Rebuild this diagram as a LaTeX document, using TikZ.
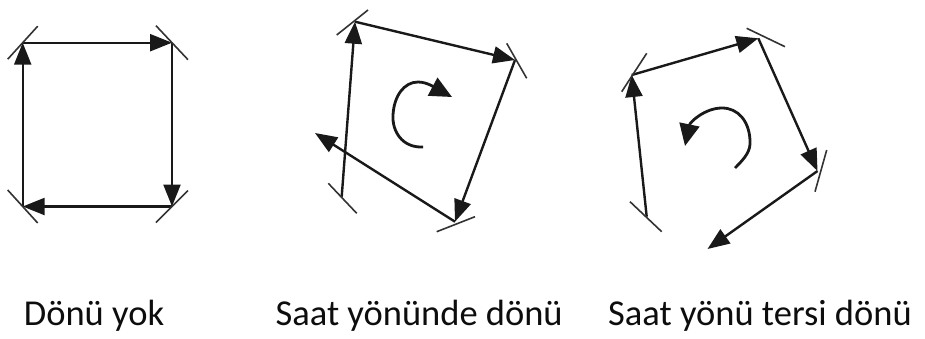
\documentclass[tikz,border=0pt]{standalone}
\usepackage{fontspec}
\setmainfont{Carlito}
\usetikzlibrary{arrows.meta,calc}
\begin{document}
\begin{tikzpicture}[x=1pt,y=-1pt,
  edge/.style={line width=2.4pt, color=black!90, -{Triangle[length=22pt,width=17pt]}},
  vtick/.style={line width=1.6pt, color=black!80},
  curl/.style={line width=2.8pt, color=black!90, -{Triangle[length=22pt,width=20pt]}},
  lbl/.style={anchor=base, inner sep=0pt, text=black!95, font=\fontsize{36.5pt}{40pt}\selectfont}]
\useasboundingbox (0,0) rectangle (925,338);
% ---------- panel 1 : no rotation
\coordinate (TL) at (22.7,42.7);
\coordinate (TR) at (172,42.7);
\coordinate (BR) at (172,206.5);
\coordinate (BL) at (22.7,206.5);
\draw[edge] (TL) -- (TR);
\draw[edge] (TR) -- (BR);
\draw[edge] (BR) -- (BL);
\draw[edge] (BL) -- (TL);
\draw[vtick] ($(TL)+(-15,16.5)$) -- ($(TL)+(15,-16.5)$);
\draw[vtick] ($(TR)+(-16,-17)$) -- ($(TR)+(16,17)$);
\draw[vtick] ($(BR)+(-16,16)$) -- ($(BR)+(16,-16)$);
\draw[vtick] ($(BL)+(-15,-16.5)$) -- ($(BL)+(15,16.5)$);
% ---------- panel 2 : clockwise
\coordinate (A) at (355,21.7);
\coordinate (B) at (515,60);
\coordinate (C) at (455,221.7);
\coordinate (D) at (341.7,196.7);
\coordinate (E) at (315,133);
\draw[edge] (A) -- (B);
\draw[edge] (B) -- (C);
\draw[edge] (C) -- (E);
\draw[edge] (D) -- (A);
\draw[vtick] ($(A)+(-18.3,13.3)$) -- ($(A)+(13,-11.7)$);
\draw[vtick] ($(B)+(-8.3,-16.7)$) -- ($(B)+(11.7,18.3)$);
\draw[vtick] ($(C)+(-18.3,10)$) -- ($(C)+(20,-5)$);
\draw[vtick] ($(D)+(-13.4,-13.4)$) -- ($(D)+(15,16.6)$);
\coordinate (cw0) at (423,147);
\coordinate (cw1) at (452,97);
\draw[curl] (cw0) .. controls (402,148) and (392,131) .. (393,115)
  .. controls (394,96) and (404,82) .. (418,82)
  .. controls (428,82) and (437,89) .. (cw1);
% ---------- panel 3 : counter-clockwise
\coordinate (P) at (631.7,75);
\coordinate (Q) at (758.3,38.3);
\coordinate (R) at (817.5,171);
\coordinate (S) at (646.7,216.7);
\coordinate (T) at (707.5,249);
\draw[edge] (P) -- (Q);
\draw[edge] (Q) -- (R);
\draw[edge] (R) -- (T);
\draw[edge] (S) -- (P);
\draw[vtick] ($(P)+(-10,16.7)$) -- ($(P)+(15,-21.7)$);
\draw[vtick] ($(Q)+(-11.6,-10)$) -- ($(Q)+(26.7,8.4)$);
\draw[vtick] ($(R)+(9.2,-21)$) -- ($(R)+(-2.5,20.7)$);
\draw[vtick] ($(S)+(-16.7,-15)$) -- ($(S)+(15,15)$);
\coordinate (ccw0) at (735,168);
\coordinate (ccw1) at (685,146);
\draw[curl] (ccw0) .. controls (745,158) and (751,151) .. (750,140)
  .. controls (749,121) and (738,108) .. (722,108)
  .. controls (705,108) and (690,122) .. (ccw1);
% ---------- labels
\node[lbl] (l1) at (94,325.5) {Dönü yok};
\node[lbl] (l2) at (419.2,325.5) {Saat yönünde dönü};
\node[lbl] (l3) at (760,325.5) {Saat yönü tersi dönü};
\end{tikzpicture}
\end{document}
